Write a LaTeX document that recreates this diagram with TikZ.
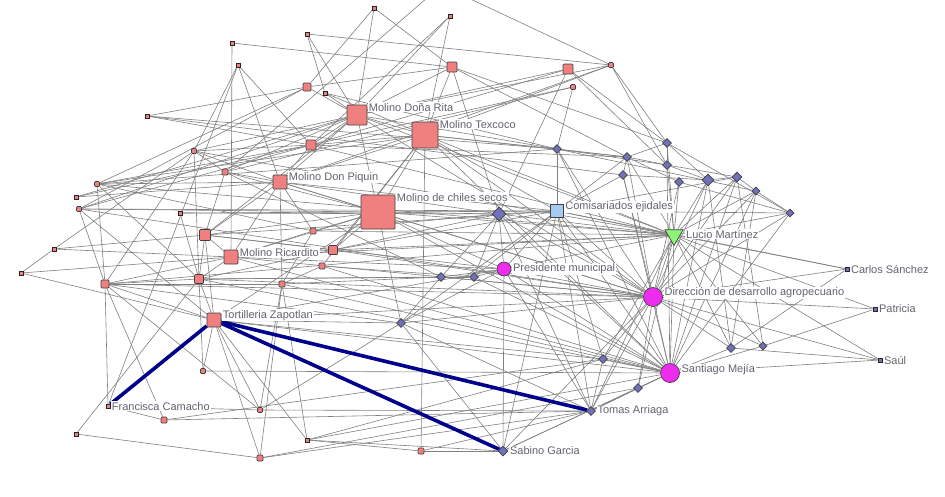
\documentclass[tikz,border=0pt]{standalone}
\usepackage{fontspec}
\setmainfont{Liberation Sans}
\usetikzlibrary{shapes.geometric,backgrounds}

\definecolor{molinopink}{RGB}{240,128,128}
\definecolor{actorblue}{RGB}{112,112,188}
\definecolor{officemag}{RGB}{238,44,238}
\definecolor{ejidoblue}{RGB}{168,202,240}
\definecolor{luciogreen}{RGB}{140,245,120}
\definecolor{linkgray}{RGB}{128,128,128}
\definecolor{tienavy}{RGB}{0,0,140}
\definecolor{labelgray}{RGB}{100,100,112}

\begin{document}
\begin{tikzpicture}[
  x=1pt, y=-1pt,
  molino/.style={rectangle, rounded corners=1pt, draw=black!75, line width=0.7pt, fill=molinopink, inner sep=0pt, minimum size=#1},
  speck/.style={rectangle, draw=black!85, line width=0.7pt, fill=molinopink, inner sep=0pt, minimum size=4pt},
  actor/.style={diamond, draw=black!75, line width=0.7pt, fill=actorblue, inner sep=0pt, minimum size=#1},
  actor/.default=9pt,
  office/.style={circle, draw=black!75, line width=0.7pt, fill=officemag, inner sep=0pt, minimum width=#1, minimum height=#1+2pt},
  lbl/.style={anchor=west, label distance=0.5pt, fill=white, inner sep=1pt, text=labelgray, font=\fontsize{11}{13}\selectfont},
  corner/.style={lbl, yshift=-3pt},
  link/.style={draw=linkgray, line width=0.6pt},
  tie/.style={draw=tienavy, line width=3.6pt}
]
  \useasboundingbox (0,0) rectangle (945,496);

  %% Molinos y tortillerias
  \node[molino=20pt, label={[corner]north east:Molino Doña Rita}] (rita) at (357,115) {};
  \node[molino=26pt, label={[corner]north east:Molino Texcoco}] (texcoco) at (425,135) {};
  \node[molino=34pt, label={[corner]north east:Molino de chiles secos}] (chiles) at (378,212) {};
  \node[molino=14pt, label={[corner]north east:Molino Don Piquin}] (piquin) at (280,182) {};
  \node[molino=14pt, label={[corner]north east:Molino Ricardito}] (ricardito) at (231,257) {};
  \node[molino=14pt, label={[corner]north east:Tortilleria Zapotlan}] (tortilleria) at (214,320) {};

  %% Other pink vertices
  \node[molino=10pt] (m1) at (452,67) {};
  \node[molino=10pt] (m2) at (568,69) {};
  \node[molino=5pt] (m3) at (611,65) {};
  \node[molino=5pt] (m4) at (573,87) {};
  \node[molino=8pt] (m5) at (307,87) {};
  \node[molino=10pt] (m6) at (311,145) {};
  \node[molino=6pt] (m7) at (225,172) {};
  \node[molino=5pt] (m8) at (194,151) {};
  \node[molino=5pt] (m9) at (97,184) {};
  \node[molino=5pt] (m10) at (79,209) {};
  \node[molino=11pt] (m11) at (205,235) {};
  \node[molino=6pt] (m12) at (313,231) {};
  \node[molino=9pt] (m13) at (333,250) {};
  \node[molino=6pt] (m14) at (322,266) {};
  \node[molino=9pt] (m15) at (199,279) {};
  \node[molino=6pt] (m16) at (282,284) {};
  \node[molino=8pt] (m17) at (105,284) {};
  \node[molino=5pt] (m18) at (203,371) {};
  \node[molino=6pt] (m19) at (164,420) {};
  \node[molino=5pt] (m20) at (260,410) {};
  \node[molino=6pt] (m21) at (260,458) {};
  \node[molino=6pt] (m22) at (421,451) {};

  \node[speck] (t1) at (232,43) {};
  \node[speck] (t2) at (238,65) {};
  \node[speck] (t3) at (307,34) {};
  \node[speck] (t4) at (374,8) {};
  \node[speck] (t5) at (450,16) {};
  \node[speck] (t6) at (147,116) {};
  \node[speck] (t7) at (76,197) {};
  \node[speck] (t8) at (180,213) {};
  \node[speck] (t9) at (54,249) {};
  \node[speck] (t10) at (21,273) {};
  \node[speck] (t11) at (76,434) {};
  \node[speck] (t12) at (307,440) {};
  \node[speck] (t13) at (325,93) {};
  \node[speck, label={[corner]north east:Francisca Camacho}] (francisca) at (108,406) {};
  \coordinate (cutA) at (448,-20);
  \coordinate (cutB) at (430,-20);

  %% Diamonds
  \node[actor] (d1) at (557,149) {};
  \node[actor] (d2) at (667,143) {};
  \node[actor] (d3) at (627,157) {};
  \node[actor] (d4) at (667,165) {};
  \node[actor] (d5) at (623,175) {};
  \node[actor] (d6) at (679,182) {};
  \node[actor=12pt] (d7) at (708,180) {};
  \node[actor=10pt] (d8) at (737,177) {};
  \node[actor=8pt] (d9) at (756,191) {};
  \node[actor=8pt] (d10) at (790,213) {};
  \node[actor=14pt] (d11) at (499,214) {};
  \node[actor] (d12) at (441,277) {};
  \node[actor] (d13) at (474,277) {};
  \node[actor] (d14) at (401,323) {};
  \node[actor] (d15) at (603,359) {};
  \node[actor] (d16) at (638,388) {};
  \node[actor] (d17) at (731,348) {};
  \node[actor=8pt] (d18) at (763,346) {};
  \node[actor, label={[lbl]east:Tomas Arriaga}] (tomas) at (591,411) {};
  \node[actor=10pt, label={[lbl]east:Sabino Garcia}] (sabino) at (503,451) {};

  %% Institutions and persons
  \node[rectangle, draw=black!75, line width=0.7pt, fill=ejidoblue, inner sep=0pt, minimum size=13pt,
        label={[corner]north east:Comisariados ejidales}] (comisariados) at (557,211) {};
  \node[regular polygon, regular polygon sides=3, shape border rotate=180, draw=black!75, line width=0.7pt,
        fill=luciogreen, inner sep=0pt, minimum size=21pt,
        label={[lbl, xshift=4pt, yshift=1pt]east:Lucio Martínez}] (lucio) at (674,235) {};
  \node[office=12pt, label={[lbl]east:Presidente municipal}] (presidente) at (504,269) {};
  \node[office=17pt, label={[lbl, yshift=4pt]east:Dirección de desarrollo agropecuario}] (direccion) at (653,297) {};
  \node[office=17pt, label={[lbl, yshift=3pt]east:Santiago Mejía}] (santiago) at (670,373) {};
  \node[speck, fill=actorblue, label={[lbl]east:Carlos Sánchez}] (carlos) at (847,269) {};
  \node[speck, fill=actorblue, label={[lbl]east:Patricia}] (patricia) at (875,309) {};
  \node[speck, fill=actorblue, label={[lbl]east:Saúl}] (saul) at (880,360) {};

  %% Edges
  \begin{scope}[on background layer]
    \fill[white] (0,0) rectangle (945,496);
    \draw[link] (t1) edge (m1) edge (ricardito);
    \draw[link] (t2) edge (piquin) edge (m6) edge (m8) edge (francisca);
    \draw[link] (t3) edge (m3) edge (t13) edge (rita);
    \draw[link] (t4) edge (m5) edge (rita) edge (m1);
    \draw[link] (t5) edge (rita) edge (texcoco) edge (m6);
    \draw[link] (cutA) edge (m7);
    \draw[link] (cutB) edge (m3);
    \draw[link] (m1) edge (rita) edge (texcoco) edge (d2) edge (d3) edge (d11) edge (m5);
    \draw[link] (m2) edge (d2) edge (d4) edge (rita) edge (m6) edge (d11);
    \draw[link] (m3) edge (d2) edge (d4) edge (texcoco) edge (piquin) edge (rita);
    \draw[link] (m4) edge (m6) edge (m7) edge (d1);
    \draw[link] (rita) edge (texcoco) edge (chiles) edge (piquin) edge (m5) edge (m6) edge (m7) edge (m8)
      edge (d1) edge (direccion) edge (m11) edge (m10) edge (t13) edge (lucio) edge (t7);
    \draw[link] (texcoco) edge (chiles) edge (d1) edge (comisariados) edge (lucio) edge (direccion) edge (d3)
      edge (piquin) edge (m6) edge (m9) edge (m13) edge (santiago) edge (m14) edge (m22);
    \draw[link] (chiles) edge (piquin) edge (d11) edge (comisariados) edge (direccion) edge (santiago) edge (lucio)
      edge (m12) edge (m13) edge (ricardito) edge (t8) edge (m11) edge (m10) edge (tortilleria) edge (presidente)
      edge (d14) edge (m7);
    \draw[link] (piquin) edge (m7) edge (m8) edge (ricardito) edge (m11) edge (m6) edge (m9) edge (m16) edge (d11)
      edge (comisariados) edge (m12) edge (direccion);
    \draw[link] (ricardito) edge (m11) edge (m15) edge (m13) edge (m17) edge (t9) edge (direccion) edge (lucio)
      edge (presidente) edge (m12) edge (santiago);
    \draw[link] (m5) edge (t6) edge (m9) edge (m10);
    \draw[link] (m6) edge (m8) edge (m9) edge (m10) edge (t6) edge (lucio) edge (d3);
    \draw[link] (m7) edge (m8) edge (m11) edge (d12);
    \draw[link] (m8) edge (m15) edge (m17) edge (t9) edge (lucio);
    \draw[link] (m9) edge (m17) edge (d1) edge (m12) edge (m15) edge (lucio);
    \draw[link] (m10) edge (m17) edge (comisariados) edge (tortilleria) edge (direccion);
    \draw[link] (t6) edge (d1) edge (d5);
    \draw[link] (t7) edge (m6) edge (piquin);
    \draw[link] (t8) edge (m15) edge (d11);
    \draw[link] (t9) edge (m11) edge (t10);
    \draw[link] (t10) edge (ricardito) edge (tortilleria);
    \draw[link] (m11) edge (m15) edge (m13) edge (presidente) edge (comisariados);
    \draw[link] (m12) edge (m16) edge (d11) edge (lucio);
    \draw[link] (m13) edge (d11) edge (comisariados) edge (m15) edge (lucio) edge (direccion);
    \draw[link] (m14) edge (m16) edge (d13) edge (santiago);
    \draw[link] (m15) edge (m17) edge (m18) edge (d12) edge (d13) edge (direccion) edge (santiago);
    \draw[link] (m16) edge (m20) edge (d12) edge (m21) edge (santiago);
    \draw[link] (m17) edge (m16) edge (m20) edge (d14) edge (direccion) edge (lucio) edge (tortilleria) edge (francisca);
    \draw[link] (m18) edge (santiago);
    \draw[link] (m19) edge (d15) edge (francisca) edge (tomas) edge (m17);
    \draw[link] (m20) edge (francisca) edge (tomas) edge (d14);
    \draw[link] (m21) edge (t11) edge (d16) edge (tortilleria) edge (tomas);
    \draw[link] (m22) edge (sabino) edge (t12) edge (tomas);
    \draw[link] (t11) edge (m15);
    \draw[link] (t12) edge (sabino) edge (d15) edge (tortilleria) edge (m16) edge (santiago);
    \draw[link] (t13) edge (texcoco) edge (d1);
    \draw[link] (tortilleria) edge (m15) edge (m11) edge (m18) edge (m20) edge (d14) edge (direccion)
      edge (santiago) edge (presidente) edge (d15);
    \draw[link] (d1) edge (comisariados) edge (d3) edge (d9) edge (santiago) edge (direccion) edge (d4);
    \draw[link] (d2) edge (d4) edge (d10) edge (lucio) edge (d7) edge (d3);
    \draw[link] (d3) edge (d4) edge (lucio) edge (direccion) edge (d6) edge (d5);
    \draw[link] (d4) edge (lucio) edge (d7) edge (santiago) edge (d8);
    \draw[link] (d5) edge (d7) edge (direccion) edge (santiago);
    \draw[link] (d6) edge (d10) edge (lucio) edge (direccion);
    \draw[link] (d7) edge (d8) edge (direccion) edge (santiago) edge (lucio) edge (d17);
    \draw[link] (d8) edge (d9) edge (lucio) edge (direccion) edge (santiago) edge (d18);
    \draw[link] (d9) edge (d10) edge (direccion) edge (santiago) edge (d17);
    \draw[link] (d10) edge (lucio) edge (direccion) edge (santiago) edge (comisariados);
    \draw[link] (d11) edge (comisariados) edge (presidente) edge (d12) edge (d13) edge (direccion) edge (santiago)
      edge (tomas) edge (lucio);
    \draw[link] (d12) edge (d13) edge (presidente) edge (d14) edge (direccion);
    \draw[link] (d13) edge (presidente) edge (comisariados) edge (santiago);
    \draw[link] (d14) edge (presidente) edge (comisariados) edge (direccion) edge (tomas) edge (sabino);
    \draw[link] (d15) edge (santiago) edge (direccion) edge (lucio) edge (comisariados) edge (tomas);
    \draw[link] (d16) edge (santiago) edge (direccion) edge (tomas) edge (lucio) edge (sabino);
    \draw[link] (d17) edge (direccion) edge (lucio) edge (santiago) edge (saul) edge (carlos);
    \draw[link] (d18) edge (santiago) edge (patricia) edge (direccion) edge (lucio);
    \draw[link] (comisariados) edge (lucio) edge (direccion) edge (santiago) edge (presidente) edge (tomas)
      edge (sabino) edge (d3) edge (d5) edge (d8) edge (carlos);
    \draw[link] (lucio) edge (direccion) edge (santiago) edge (presidente) edge (carlos) edge (patricia)
      edge (saul) edge (tomas) edge (d9);
    \draw[link] (direccion) edge (santiago) edge (presidente) edge (patricia) edge (saul) edge (tomas)
      edge (sabino) edge (carlos);
    \draw[link] (santiago) edge (presidente) edge (saul) edge (tomas) edge (sabino);
    \draw[link] (presidente) edge (sabino) edge (tomas);
    %% strong ties
    \draw[tie] (tortilleria) edge (francisca) edge (tomas) edge (sabino);
  \end{scope}
\end{tikzpicture}
\end{document}
